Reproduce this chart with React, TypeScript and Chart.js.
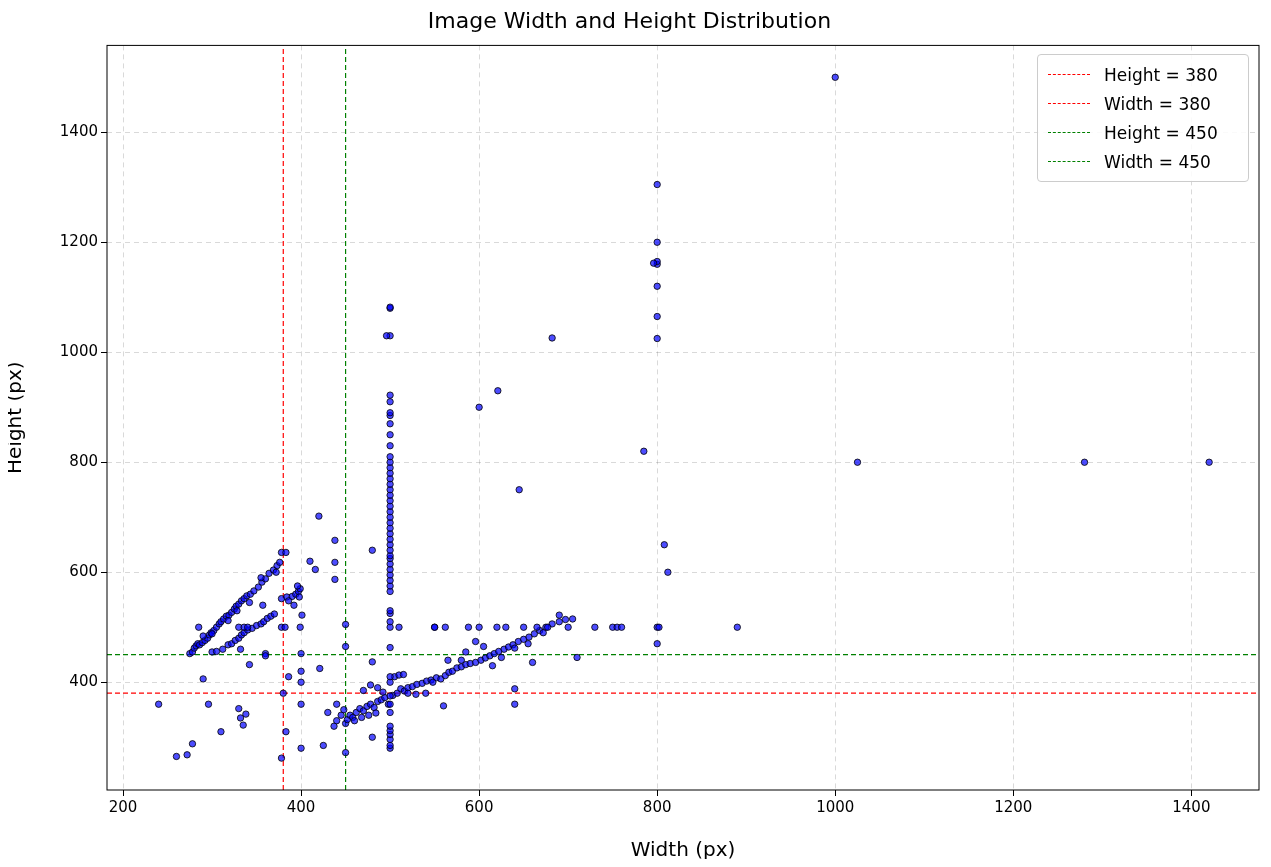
import { Chart, registerables } from 'chart.js';
import { useEffect, useRef } from 'react';
Chart.register(...registerables);

// [width, height] samples
const upperBand: number[][] = [
  [275, 452], [278, 455], [280, 462], [282, 466], [284, 470], [286, 468], [289, 472], [292, 476], [295, 480],
  [297, 486], [299, 490], [302, 494], [305, 500], [308, 506], [310, 510], [313, 515], [316, 520], [319, 522],
  [322, 527], [325, 533], [327, 538], [330, 542], [333, 548], [336, 552], [339, 557], [343, 560], [347, 566],
  [352, 573], [356, 582], [360, 588], [364, 598], [369, 604], [373, 612], [376, 618], [378, 636], [383, 636],
  [285, 500], [290, 484], [300, 488], [318, 512], [328, 530], [342, 545], [355, 590], [372, 600],
];
const lowerBand: number[][] = [
  [300, 455], [305, 456], [312, 460], [318, 468], [322, 470], [326, 476], [330, 480], [333, 486], [336, 490],
  [340, 495], [345, 498], [350, 503], [355, 506], [358, 510], [362, 516], [366, 520], [370, 524], [378, 552],
  [384, 555], [390, 556], [394, 560], [397, 565], [399, 570], [398, 555], [386, 548], [392, 540], [396, 575],
  [330, 500], [336, 500], [340, 500], [378, 500], [382, 500], [399, 500], [357, 540], [332, 460], [360, 452],
  [360, 448],
];
const mainBand: number[][] = [
  [430, 345], [437, 320], [440, 330], [445, 340], [448, 350], [450, 325], [452, 332], [455, 340], [458, 336],
  [462, 345], [466, 352], [470, 348], [474, 356], [478, 360], [482, 354], [486, 365], [490, 368], [494, 372],
  [498, 360], [503, 376], [508, 380], [512, 388], [516, 384], [520, 390], [525, 392], [530, 396], [536, 398],
  [541, 402], [546, 404], [552, 408], [557, 406], [562, 412], [566, 418], [570, 420], [575, 426], [580, 428],
  [585, 432], [590, 434], [596, 436], [602, 440], [607, 444], [612, 448], [617, 452], [622, 456], [628, 460],
  [633, 464], [638, 468], [644, 474], [650, 478], [656, 482], [662, 488], [668, 494], [675, 500], [682, 506],
  [690, 510], [697, 514], [470, 385], [478, 395], [486, 390], [492, 382], [505, 410], [510, 413], [515, 414],
  [520, 380], [529, 378], [540, 380], [548, 400], [565, 440], [585, 455], [596, 474], [605, 465], [615, 430],
  [625, 445], [640, 462], [655, 470], [660, 436], [672, 490], [690, 522], [705, 515], [710, 445],
  [440, 360], [460, 330], [468, 336], [476, 340], [484, 344], [425, 285], [480, 300],
];
const col500: number[] = [
  280, 285, 296, 305, 312, 320, 345, 360, 375, 400, 410, 463, 500, 510, 525, 530, 565, 575, 585, 595, 605,
  615, 625, 630, 640, 650, 660, 670, 680, 690, 700, 710, 720, 730, 740, 750, 760, 770, 780, 790, 800, 810,
  830, 850, 870, 885, 890, 910, 922, 1030, 1080, 1082,
];
const row500: number[] = [
  510, 550, 562, 588, 600, 620, 630, 650, 665, 677, 700, 730, 750, 755, 760, 800, 802, 890,
];
const scattered: number[][] = [
  [240, 360], [260, 265], [272, 268], [278, 288], [290, 406], [296, 360], [310, 310], [330, 352], [332, 335],
  [335, 322], [338, 342], [342, 432], [378, 262], [380, 380], [383, 310], [386, 410], [400, 420], [400, 452],
  [400, 280], [400, 360], [400, 400], [401, 522], [410, 620], [416, 605], [420, 702], [421, 425], [438, 658],
  [438, 587], [438, 618], [450, 272], [450, 465], [450, 505], [480, 640], [480, 437], [496, 1030], [600, 900],
  [621, 930], [645, 750], [682, 1026], [560, 357], [640, 360], [640, 388], [785, 820], [800, 1025],
  [800, 1065], [800, 1120], [800, 1160], [800, 1165], [800, 1200], [800, 1305], [796, 1162], [800, 470],
  [808, 650], [812, 600], [1000, 1500], [1025, 800], [1280, 800], [1420, 800], [580, 440], [550, 500],
];

const allPoints = [
  ...upperBand,
  ...lowerBand,
  ...mainBand,
  ...col500.map((h) => [500, h]),
  ...row500.map((w) => [w, 500]),
  ...scattered,
].map(([x, y]) => ({ x, y }));

const refLines = [
  { label: 'Height = 380', color: 'red', horizontal: 380 },
  { label: 'Width = 380', color: 'red', vertical: 380 },
  { label: 'Height = 450', color: 'green', horizontal: 450 },
  { label: 'Width = 450', color: 'green', vertical: 450 },
];

const X_MIN = 182, X_MAX = 1476, Y_MIN = 204, Y_MAX = 1558;
const FONT = 'DejaVu Sans';

const frame = {
  id: 'frame',
  afterDraw(chart: Chart) {
    const { ctx, chartArea: a } = chart;
    ctx.save();
    ctx.strokeStyle = '#000';
    ctx.lineWidth = 1;
    ctx.strokeRect(a.left, a.top, a.right - a.left, a.bottom - a.top);
    ctx.restore();
  },
};

export default function App() {
  const ref = useRef<HTMLCanvasElement | null>(null);
  useEffect(() => {
    if (!ref.current) return;
    const font = { family: FONT };
    const c = new Chart(ref.current, {
      type: 'scatter',
      data: {
        datasets: [
          {
            label: 'points',
            data: allPoints,
            backgroundColor: 'rgba(0,0,255,0.7)',
            borderColor: 'rgba(0,0,0,0.8)',
            borderWidth: 1,
            pointRadius: 3.2,
          },
          ...refLines.map((l) => ({
            label: l.label,
            type: 'line' as const,
            data:
              l.horizontal !== undefined
                ? [{ x: X_MIN, y: l.horizontal }, { x: X_MAX, y: l.horizontal }]
                : [{ x: l.vertical!, y: Y_MIN }, { x: l.vertical!, y: Y_MAX }],
            borderColor: l.color,
            backgroundColor: l.color,
            borderWidth: 1.2,
            borderDash: [5, 3],
            pointRadius: 0,
            fill: false,
          })),
        ],
      },
      plugins: [frame],
      options: {
        animation: false,
        responsive: false,
        layout: { padding: { right: 12 } },
        plugins: {
          title: { display: true, text: 'Image Width and Height Distribution', color: '#000', font: { ...font, size: 22, weight: 'normal' }, padding: { top: 9, bottom: 10 } },
          legend: { display: false },
          tooltip: { enabled: false },
        },
        scales: {
          x: {
            type: 'linear', min: X_MIN, max: X_MAX,
            afterBuildTicks: (axis) => { axis.ticks = [200, 400, 600, 800, 1000, 1200, 1400].map((v) => ({ value: v })); },
            afterFit: (axis) => { axis.height = 77; },
            title: { display: true, text: 'Width (px)', color: '#000', font: { ...font, size: 20 }, padding: { top: 2 } },
            ticks: { color: '#000', font: { ...font, size: 15 }, callback: (v) => String(v) },
            grid: { color: 'rgba(0,0,0,0.15)', tickColor: '#000', tickLength: 6 },
            border: { display: false, dash: [5, 4] },
          },
          y: {
            type: 'linear', min: Y_MIN, max: Y_MAX,
            afterBuildTicks: (axis) => { axis.ticks = [400, 600, 800, 1000, 1200, 1400].map((v) => ({ value: v })); },
            afterFit: (axis) => { axis.width = 107; },
            title: { display: true, text: 'Height (px)', color: '#000', font: { ...font, size: 20 } },
            ticks: { color: '#000', font: { ...font, size: 15 }, callback: (v) => String(v) },
            grid: { color: 'rgba(0,0,0,0.15)', tickColor: '#000', tickLength: 6 },
            border: { display: false, dash: [5, 4] },
          },
        },
      },
    });
    return () => c.destroy();
  }, []);
  return (
    <div style={{ margin: -8, background: '#fff', position: 'relative', width: 1271, height: 867 }}>
      <canvas ref={ref} width={1271} height={867} />
      <div
        style={{
          position: 'absolute', left: 1037, top: 54, width: 210, padding: '5px 0',
          border: '1px solid #ccc', borderRadius: 4, background: 'rgba(255,255,255,0.85)',
          fontFamily: FONT, fontSize: 17, color: '#000',
        }}
      >
        {refLines.map((l) => (
          <div key={l.label} style={{ display: 'flex', alignItems: 'center', height: 29 }}>
            <span style={{ display: 'inline-block', width: 42, marginLeft: 10, marginRight: 14, borderTop: `1.5px dashed ${l.color}` }} />
            {l.label}
          </div>
        ))}
      </div>
    </div>
  );
}
